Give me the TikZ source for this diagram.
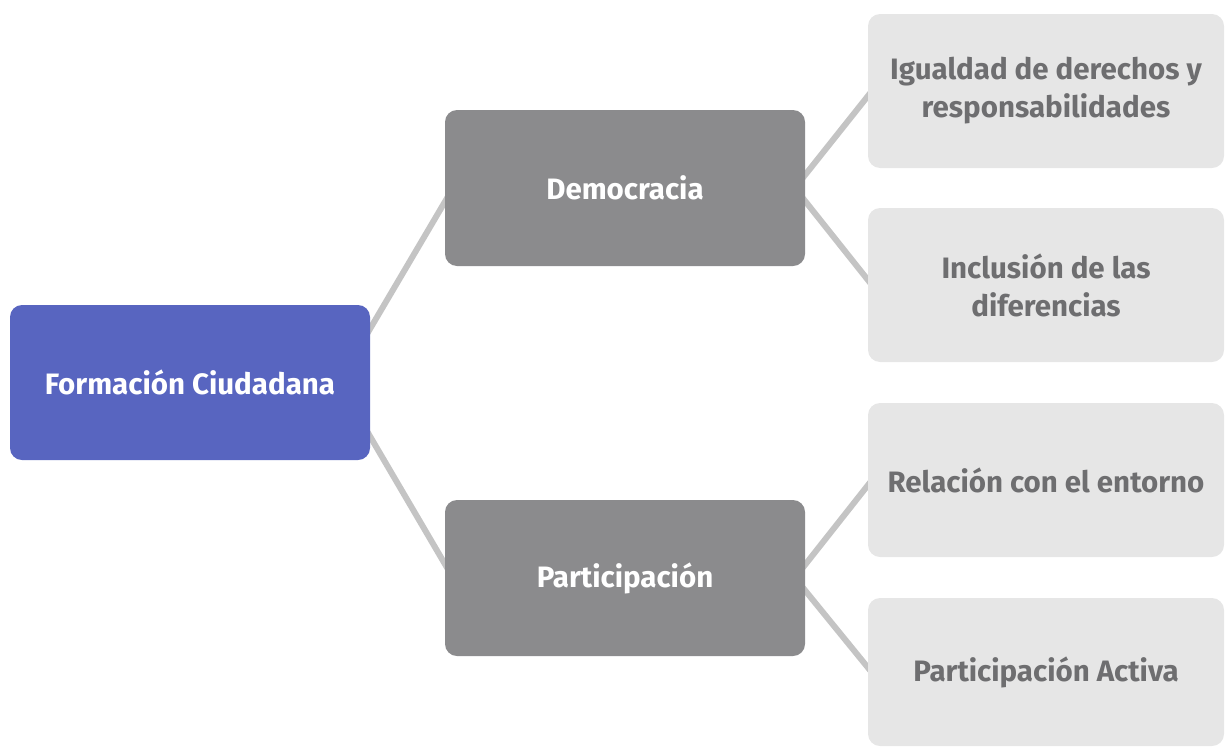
\documentclass[tikz,border=0pt]{standalone}
\usepackage{fontspec}
\setmainfont{Fira Sans}
\usetikzlibrary{calc}
\pgfdeclarelayer{background}
\pgfsetlayers{background,main}
\definecolor{rootblue}{HTML}{5865C0}
\definecolor{midgray}{HTML}{8B8B8D}
\definecolor{leafgray}{HTML}{E6E6E6}
\definecolor{leaftext}{HTML}{6E6E70}
\definecolor{linegray}{HTML}{C4C4C4}
\tikzset{
  box/.style={rounded corners=12pt, inner sep=0pt, align=center, font=\bfseries\fontsize{29.5}{38}\selectfont},
  rootbox/.style={box, fill=rootblue, text=white, minimum width=360pt, minimum height=155pt},
  midbox/.style={box, fill=midgray, text=white, minimum width=360pt, minimum height=156pt},
  leafbox/.style={box, fill=leafgray, text=leaftext, minimum width=356pt, minimum height=154pt},
  link/.style={draw=linegray, line width=6pt}
}
\begin{document}
\begin{tikzpicture}[x=1pt,y=-1pt]
\useasboundingbox (0,0) rectangle (1225,747);
\node[rootbox] (root) at (190,382.5) {Formación Ciudadana};
\node[midbox] (dem) at (625,188) {Democracia};
\node[midbox] (par) at (625,578) {Participación};
\node[leafbox] (l1) at (1046,91) {Igualdad de derechos y\\responsabilidades};
\node[leafbox] (l2) at (1046,285) {Inclusión de las\\diferencias};
\node[leafbox] (l3) at (1046,480) {Relación con el entorno};
\node[leafbox, minimum height=148pt] (l4) at (1046,672) {Participación Activa};
\begin{pgfonlayer}{background}
\draw[link] ($(root.east)+(-20,-20)$) -- ($(dem.west)+(20,-20)$);
\draw[link] ($(root.east)+(-20,20)$) -- ($(par.west)+(20,20)$);
\draw[link] ($(dem.east)+(-20,12)$) -- ($(l1.west)+(20,-20)$);
\draw[link] ($(dem.east)+(-20,-12)$) -- ($(l2.west)+(20,20)$);
\draw[link] ($(par.east)+(-20,12)$) -- ($(l3.west)+(20,-20)$);
\draw[link] ($(par.east)+(-20,-12)$) -- ($(l4.west)+(20,20)$);
\end{pgfonlayer}
\end{tikzpicture}
\end{document}
